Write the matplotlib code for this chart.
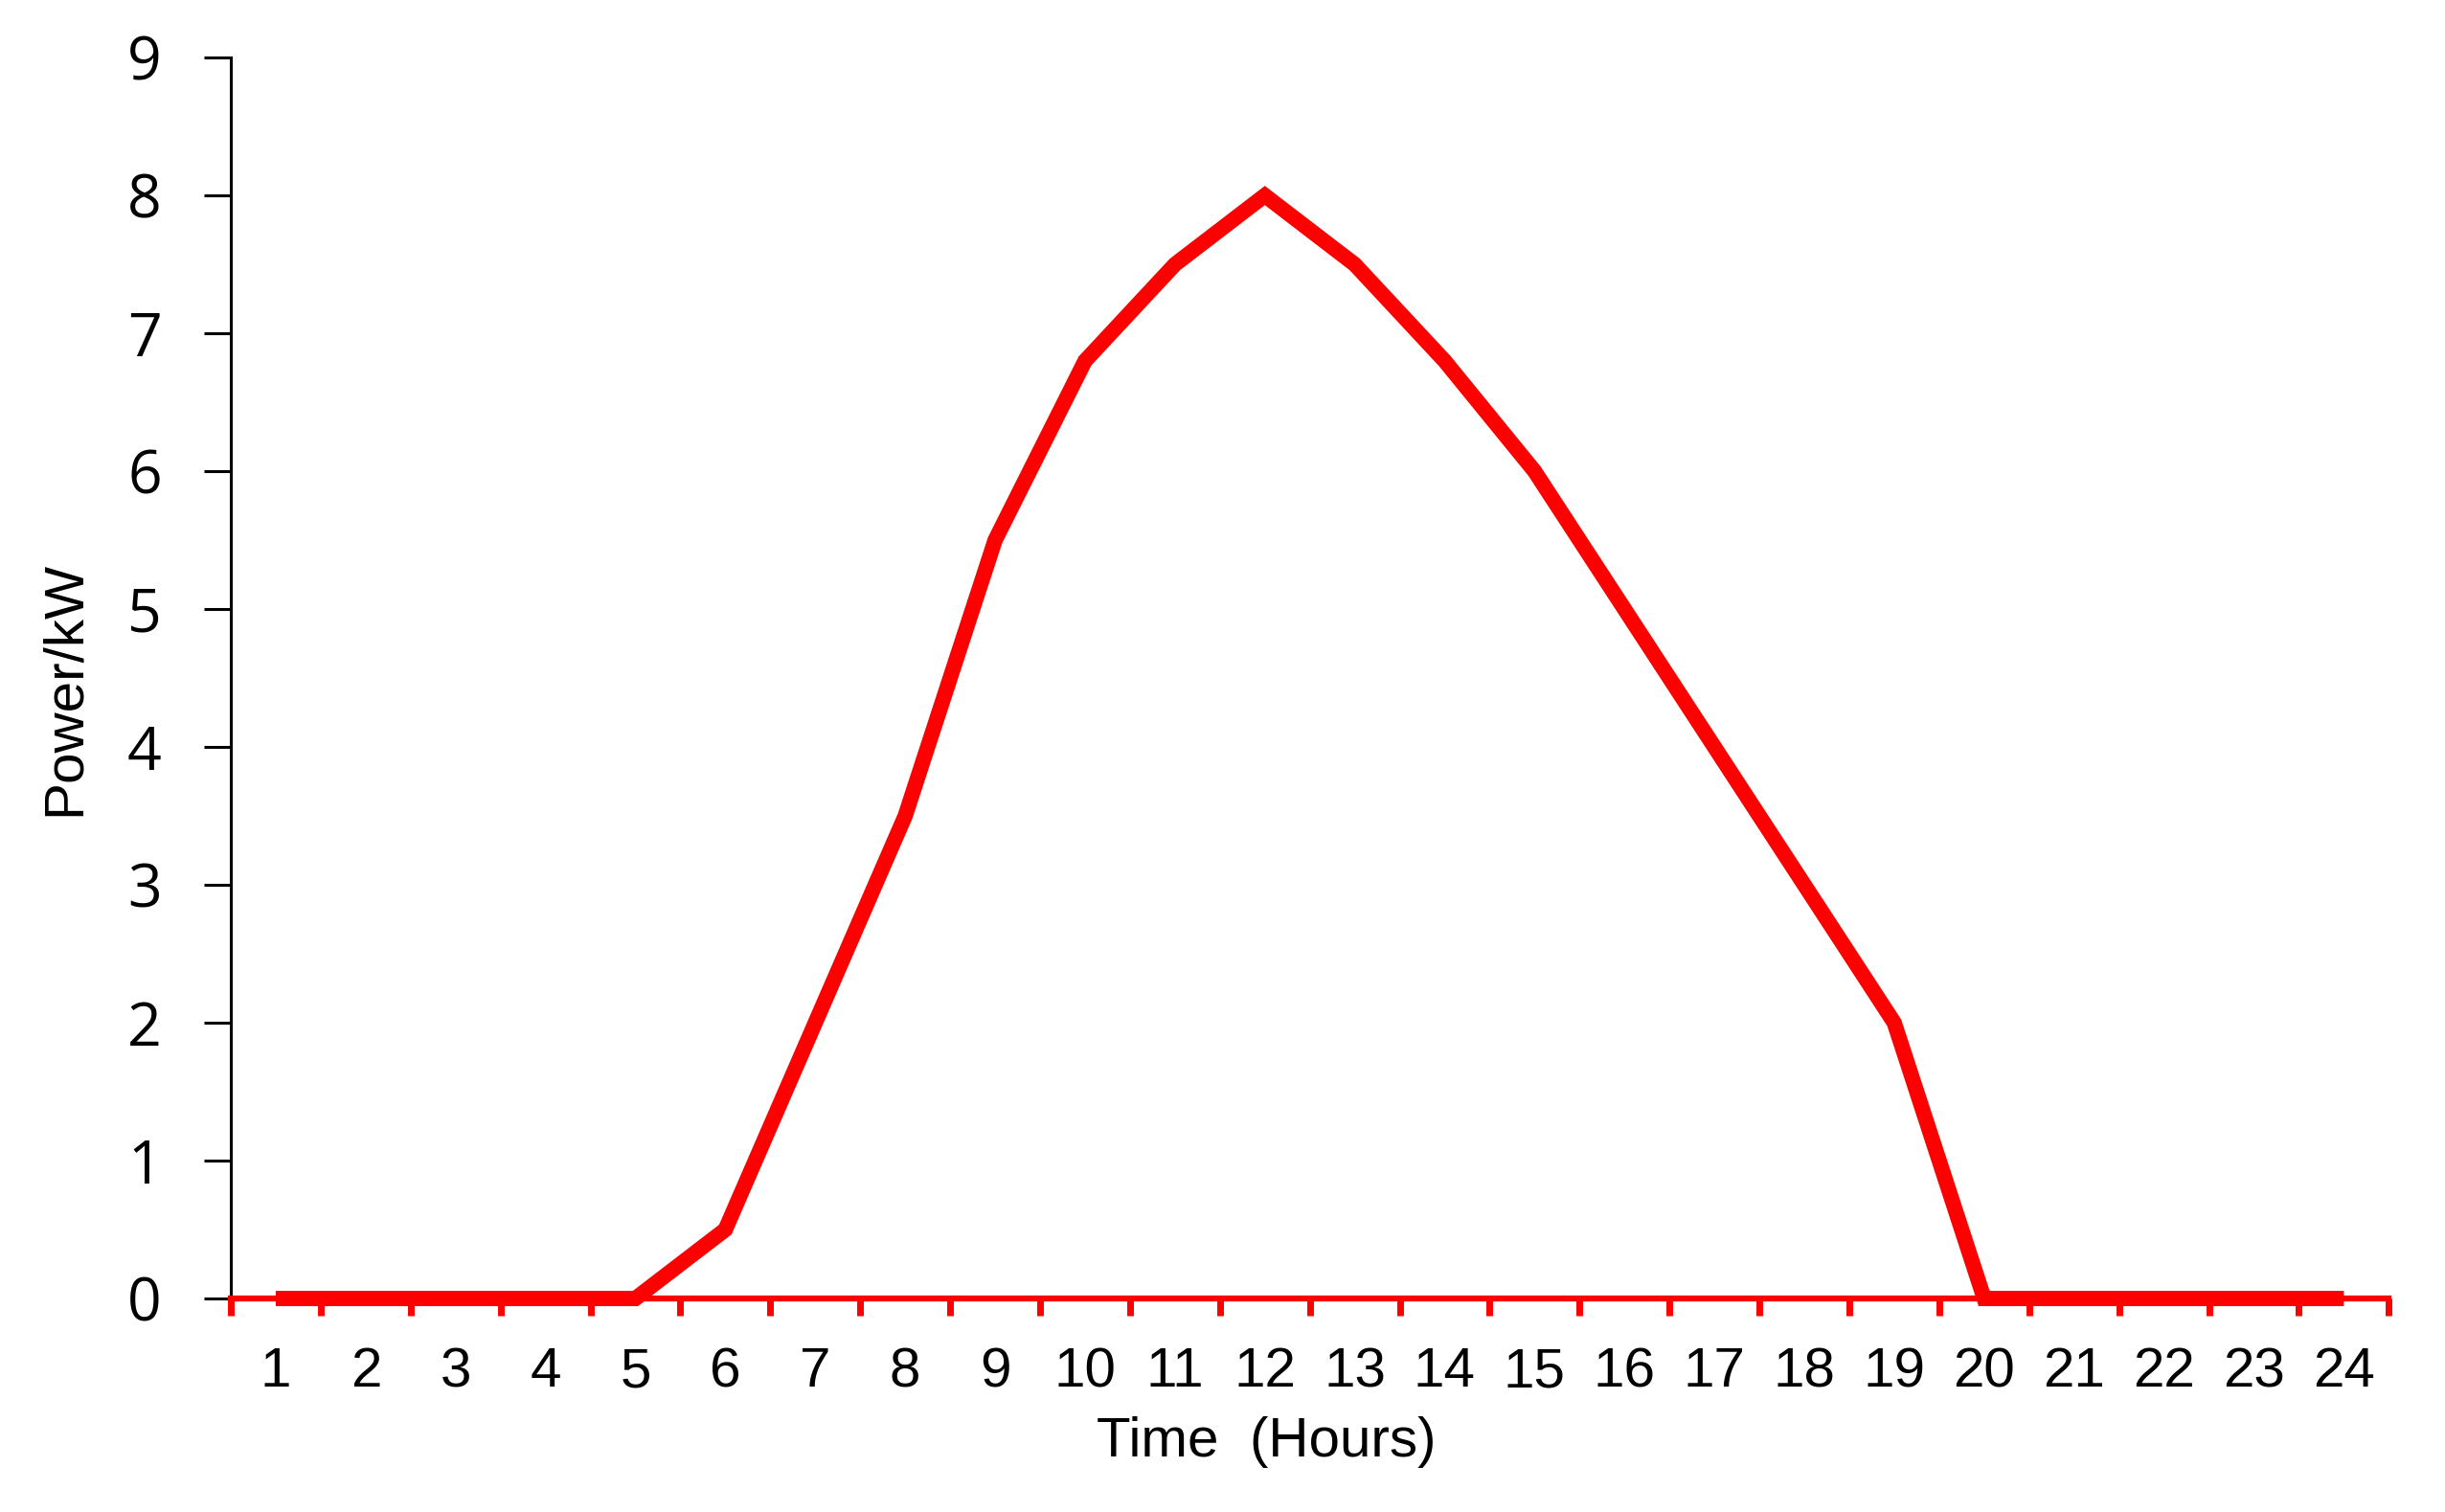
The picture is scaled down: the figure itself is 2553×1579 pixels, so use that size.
import numpy as np
import matplotlib.pyplot as plt

# hourly PV power output
hours = np.arange(1, 25)
power = [0, 0, 0, 0, 0, 0.5, 2.0, 3.5, 5.5, 6.8, 7.5, 8.0,
         7.5, 6.8, 6.0, 5.0, 4.0, 3.0, 2.0, 0, 0, 0, 0, 0]
yticks = list(range(0, 10))

fig = plt.figure(figsize=(25.53, 15.79), dpi=100)
ax = fig.add_axes([0.0944, 0.1412, 0.8826, 0.8207])

ax.plot(hours, power, color='#ff0000', lw=11.5, solid_joinstyle='miter',
        solid_capstyle='butt', clip_on=False, zorder=5)

ax.set_xlim(0.5, 24.5)
ax.set_ylim(0, 9)

# category axis: tick marks between hours, labels at hour centres
ax.set_xticks(np.arange(0.5, 25, 1))
ax.set_xticklabels([])
ax.set_xticks(hours, minor=True)
ax.set_xticklabels([str(h) for h in hours], minor=True,
                   fontsize=42, family='Liberation Sans')
ax.tick_params(axis='x', which='major', direction='out', length=13, width=5,
               color='#ff0000')
ax.tick_params(axis='x', which='minor', length=0, pad=36)

ax.set_yticks(yticks)
ax.set_yticklabels([str(v) for v in yticks], fontsize=45, family='Open Sans')
ax.tick_params(axis='y', direction='out', length=20, width=2.2, pad=32,
               color='black')

for s in ['top', 'right']:
    ax.spines[s].set_visible(False)
ax.spines['left'].set_linewidth(2.2)
ax.spines['bottom'].set_color('#ff0000')
ax.spines['bottom'].set_linewidth(4.5)

ax.set_xlabel('Time  (Hours)', fontsize=42, family='Liberation Sans', va='center')
ax.xaxis.set_label_coords(0.48, -0.116)
ax.set_ylabel('Power/kW', fontsize=42, family='Liberation Sans', va='center')
ax.yaxis.set_label_coords(-0.0768, 0.492)

fig.savefig('out.png', dpi=100, facecolor='white')
